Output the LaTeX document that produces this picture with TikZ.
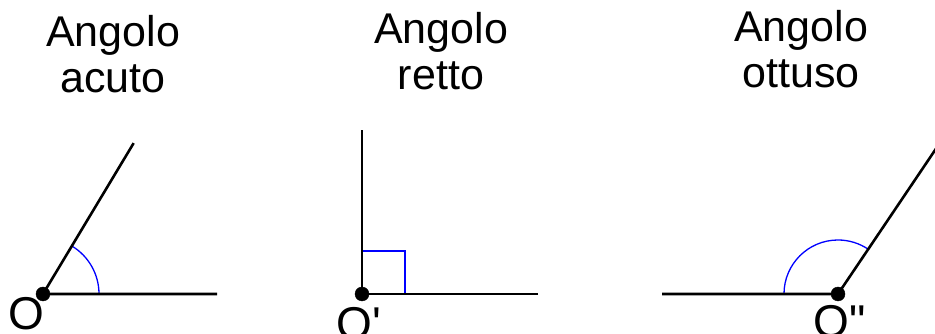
\documentclass[tikz,border=0pt]{standalone}
\usepackage{fontspec}
\setmainfont{Liberation Sans}
\begin{document}
\begin{tikzpicture}[x=1pt,y=1pt,
	ray/.style={line width=2.6pt},
	anglemark/.style={blue, line width=1.3pt},
	title/.style={align=center, inner sep=0pt, font=\fontsize{43}{46}\selectfont},
	vertex/.style={inner sep=0pt, font=\fontsize{46}{50}\selectfont}]
	\useasboundingbox (0,0) rectangle (935,334);
	
	% Acute angle
	\coordinate (O1) at (43,40);
	\coordinate (A1) at (217,40);
	\path (O1) ++(59:176) coordinate (B1);
	\draw[anglemark] ([xshift=56pt]O1) arc (0:59:56);
	\draw[ray] (A1) -- (O1) -- (B1);
	\filldraw[black] (O1) circle (7);
	\node[vertex, anchor=north] (L1) at (26,37) {O};
	\node[title, anchor=base] (T1) at (113,241) {Angolo\\acuto};
	
	% Right angle
	\coordinate (O2) at (362,40);
	\coordinate (A2) at (538,40);
	\coordinate (B2) at (362,204);
	\draw[anglemark] ([yshift=43pt]O2) -| ([xshift=43pt]O2);
	\draw[ray] (A2) -- (O2) -- (B2);
	\filldraw[black] (O2) circle (7);
	\node[vertex, anchor=north] (L2) at (359,27) {O\textquotesingle};
	\node[title, anchor=base] (T2) at (441,244) {Angolo\\retto};
	
	% Obtuse angle
	\coordinate (O3) at (838,40);
	\coordinate (A3) at (662,40);
	\path (O3) ++(56:178) coordinate (B3);
	\draw[anglemark] ([xshift=-54pt]O3) arc (180:56:54);
	\draw[ray] (A3) -- (O3) -- (B3);
	\filldraw[black] (O3) circle (7);
	\node[vertex, anchor=north] (L3) at (840,29) {O\textquotedbl};
	\node[title, anchor=base] (T3) at (801,246) {Angolo\\ottuso};
\end{tikzpicture}
\end{document}
